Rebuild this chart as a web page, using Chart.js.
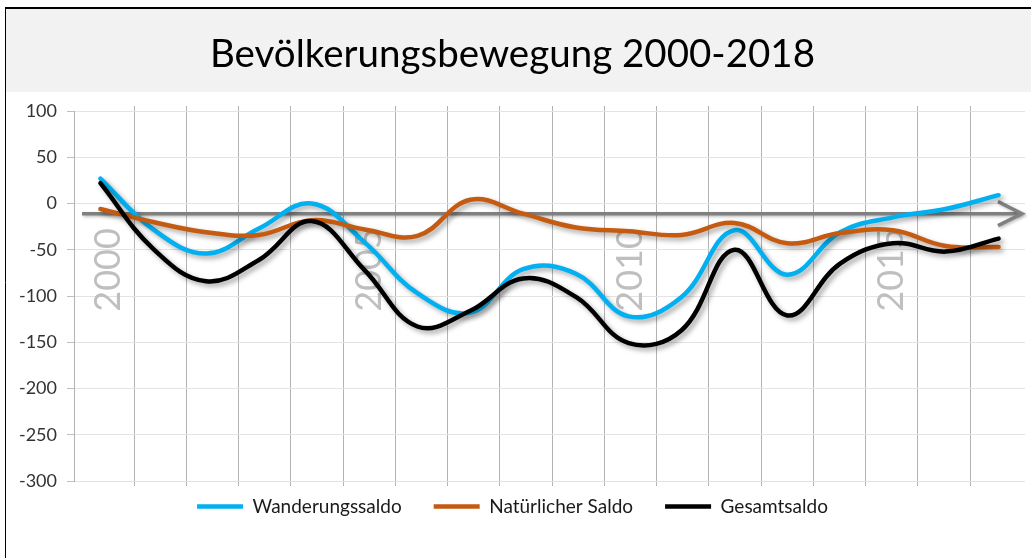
<!DOCTYPE html>
<html>
<head>
<meta charset="utf-8">
<script src="https://cdn.jsdelivr.net/npm/chart.js@4.4.1/dist/chart.umd.min.js"></script>
<style>
    html, body { margin: 0; padding: 0; background: #fff; }
</style>
</head>
<body>
<canvas id="BevChart" width="1031" height="558"></canvas>
<script>
// Werte (18 Punkte)
const years = [2000, 2001, 2002, 2003, 2004, 2005, 2006, 2007, 2008, 2009, 2010, 2011, 2012, 2013, 2014, 2015, 2016, 2017];
const wanderungssaldo   = [27, -28, -54, -27, 0, -42, -97, -118, -71, -76, -122, -101, -29, -77, -31, -15, -6, 9];
const natuerlicherSaldo = [-6, -20, -31, -34, -18, -28, -35, 4, -11, -26, -30, -34, -21, -43, -32, -29, -46, -47];
const gesamtsaldo       = [22, -49, -84, -61, -19, -72, -133, -116, -81, -101, -151, -137, -50, -121, -65, -43, -52, -38];

// Achsen
const yTicks = [100, 50, 0, -50, -100, -150, -200, -250, -300];
const yearLabels = [2000, 2005, 2010, 2015];
const gridYears = [2000.5, 2001.5, 2002.5, 2003.5, 2004.5, 2005.5, 2006.5, 2007.5, 2008.5,
                   2009.5, 2010.5, 2011.5, 2012.5, 2013.5, 2014.5, 2015.5, 2016.5];

Chart.defaults.font.family = 'Lato';

const GRID_MIN = 1999.351, GRID_MAX = 2017.552;
const gridGray = '#b3b3b3';

const deko = {
    id: 'deko',
    beforeDraw(chart) {
        const c = chart.ctx;
        c.save();
        c.fillStyle = '#fff';
        c.fillRect(0, 0, chart.width, chart.height);
        c.fillStyle = '#f2f2f2';
        c.fillRect(6, 9, chart.width - 6, 83);
        c.strokeStyle = '#000';
        c.lineWidth = 2;
        c.beginPath(); c.moveTo(5, 8); c.lineTo(chart.width, 8); c.stroke();
        c.lineWidth = 1;
        c.beginPath(); c.moveTo(5.5, 7); c.lineTo(5.5, chart.height); c.stroke();
        c.restore();
    },
    afterLayout(chart) {
        // legend sits closer to the plot than its padding allows
        chart.legend.top -= 16;
        chart.legend.bottom -= 16;
    },
    beforeDatasetsDraw(chart, args, opts) {
        const c = chart.ctx;
        const xg = chart.scales.xg, y = chart.scales.y;
        const area = chart.chartArea;

        // big grey year labels inside the plot
        c.save();
        c.fillStyle = '#bfbfbf';
        c.font = '36px Lato';
        c.textAlign = 'left';
        c.textBaseline = 'middle';
        yearLabels.forEach(yr => {
            c.save();
            c.translate(xg.getPixelForValue(yr), y.getPixelForValue(opts.labelFrom));
            c.rotate(-Math.PI / 2);
            c.fillText(String(yr), 0, 0);
            c.restore();
        });
        c.restore();

        // grey axis arrow
        const ay = y.getPixelForValue(opts.arrowLevel);
        const L = area.left + 8, R = area.right - 3;
        c.save();
        c.strokeStyle = '#808080';
        c.lineWidth = 3.5;
        c.shadowColor = 'rgba(0,0,0,0.25)';
        c.shadowBlur = 3;
        c.shadowOffsetX = 1.5;
        c.shadowOffsetY = 1.5;
        c.beginPath(); c.moveTo(L, ay); c.lineTo(R - 2, ay); c.stroke();
        c.beginPath(); c.moveTo(R - 24, ay - 12); c.lineTo(R, ay); c.lineTo(R - 24, ay + 12); c.stroke();
        c.restore();
    },
    beforeDatasetDraw(chart) {
        const c = chart.ctx;
        c.save();
        c.shadowColor = 'rgba(0,0,0,0.35)';
        c.shadowBlur = 5;
        c.shadowOffsetX = 3;
        c.shadowOffsetY = 3;
    },
    afterDatasetDraw(chart) {
        chart.ctx.restore();
    }
};

function line(label, data, color, order) {
    return {
        label: label,
        data: data,
        xAxisID: 'x',
        yAxisID: 'y',
        borderColor: color,
        backgroundColor: color,
        borderWidth: 4.5,
        borderCapStyle: 'round',
        tension: 0.4,
        pointRadius: 0,
        pointHoverRadius: 0,
        fill: false,
        order: order
    };
}

const ctx = document.getElementById('BevChart');
const c = new Chart(ctx, {
    type: 'line',
    data: {
        labels: years,
        datasets: [
            line('Wanderungssaldo', wanderungssaldo, '#00b0f0', 3),
            line('Natürlicher Saldo', natuerlicherSaldo, '#c55a11', 2),
            line('Gesamtsaldo', gesamtsaldo, '#000000', 1)
        ]
    },
    plugins: [deko],
    options: {
        responsive: false,
        animation: false,
        layout: { padding: { left: 0, right: 6, top: 0, bottom: 16 } },
        scales: {
            x: { type: 'category', display: false, offset: true },
            xg: {
                type: 'linear', axis: 'x', position: 'bottom',
                min: GRID_MIN, max: GRID_MAX,
                afterBuildTicks: s => { s.ticks = gridYears.map(v => ({ value: v })); },
                afterFit: s => { s.height = 0; },
                ticks: { display: false },
                grid: { color: gridGray, lineWidth: 1, tickLength: 5, tickColor: gridGray },
                border: { display: false }
            },
            xt: {
                type: 'linear', axis: 'x', position: 'top',
                min: GRID_MIN, max: GRID_MAX,
                afterBuildTicks: s => { s.ticks = gridYears.map(v => ({ value: v })); },
                afterFit: s => { s.height = 36; },
                ticks: { display: false },
                grid: { drawOnChartArea: false, tickLength: 5, color: gridGray, tickColor: gridGray },
                border: { display: false }
            },
            y: {
                min: -300, max: 100,
                afterBuildTicks: s => { s.ticks = yTicks.map(v => ({ value: v })); },
                afterFit: s => { s.width = 74; },
                ticks: { color: '#333', font: { size: 18 }, padding: 10 },
                grid: { color: '#e3e3e3', tickLength: 7, tickColor: '#bfbfbf' },
                border: { display: true, color: gridGray }
            }
        },
        plugins: {
            deko: { labelFrom: -117, arrowLevel: -11 },
            title: {
                display: true,
                text: 'Bevölkerungsbewegung 2000-2018',
                color: '#000',
                font: { size: 38.5, weight: 'normal', lineHeight: '40px' },
                padding: { top: 35, bottom: 0 }
            },
            legend: {
                position: 'bottom',
                maxHeight: 70,
                labels: {
                    usePointStyle: true,
                    pointStyle: 'line',
                    pointStyleWidth: 46,
                    padding: 32,
                    color: '#1a1a1a',
                    font: { size: 19 },
                    sort: (a, b) => a.datasetIndex - b.datasetIndex
                }
            },
            tooltip: { enabled: false }
        }
    }
});
</script>
</body>
</html>
